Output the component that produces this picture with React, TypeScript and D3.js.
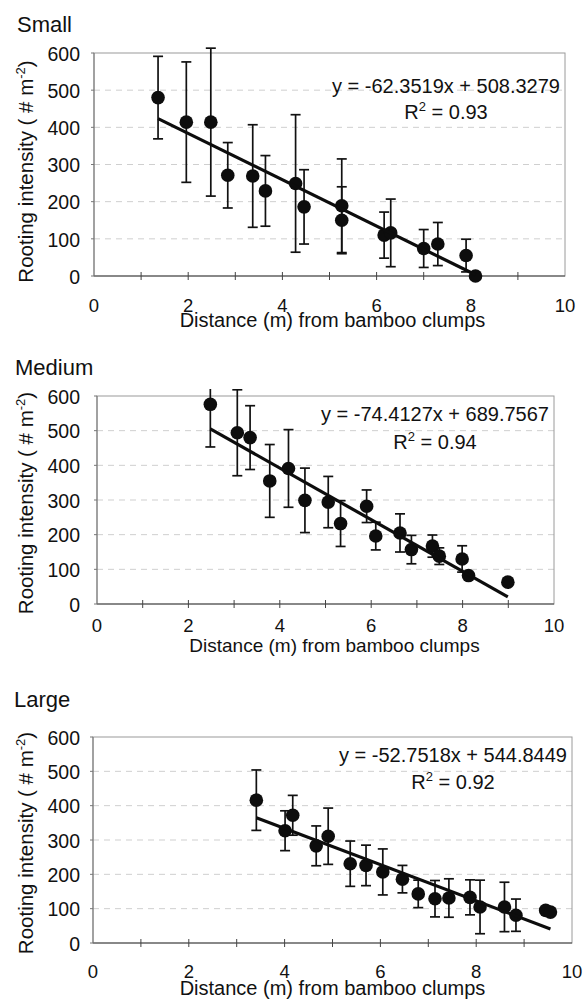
import React from 'react';
import * as d3 from 'd3';

// values: distance (m), mean rooting intensity, error bar half-width
const SMALL_X = [1.36, 1.96, 2.48, 2.84, 3.37, 3.64, 4.28, 4.46, 5.26, 5.26, 6.16, 6.30, 7.00, 7.30, 7.90, 8.10];
const SMALL_Y = [480, 414, 414, 271, 269, 229, 249, 186, 189, 150, 110, 116, 74, 86, 55, 0];
const SMALL_ERR = [111, 162, 199, 88, 138, 95, 185, 100, 126, 90, 62, 91, 51, 58, 44, 0];

const MEDIUM_X = [2.48, 3.07, 3.35, 3.78, 4.19, 4.55, 5.06, 5.33, 5.90, 6.10, 6.63, 6.88, 7.34, 7.49, 7.99, 8.13, 8.99];
const MEDIUM_Y = [576, 494, 480, 355, 391, 299, 294, 232, 282, 196, 205, 157, 167, 138, 130, 82, 63];
const MEDIUM_ERR = [123, 124, 92, 105, 112, 93, 74, 66, 47, 40, 55, 41, 32, 24, 38, 0, 0];

const LARGE_X = [3.41, 4.01, 4.17, 4.66, 4.91, 5.37, 5.70, 6.05, 6.46, 6.79, 7.14, 7.43, 7.87, 8.08, 8.59, 8.83, 9.45, 9.55];
const LARGE_Y = [416, 327, 372, 283, 311, 231, 226, 207, 186, 143, 129, 131, 133, 105, 105, 81, 95, 90];
const LARGE_ERR = [88, 58, 58, 58, 82, 66, 59, 67, 40, 40, 53, 56, 51, 78, 72, 47, 0, 0];

const TITLES = ['Small', 'Medium', 'Large'];
const SLOPES = [-62.3519, -74.4127, -52.7518];
const INTERCEPTS = [508.3279, 689.7567, 544.8449];
const R2 = ['0.93', '0.94', '0.92'];

const X_TICKS = [0, 2, 4, 6, 8, 10];
const Y_TICKS = [0, 100, 200, 300, 400, 500, 600];

const FONT = '"Liberation Sans", Arial, sans-serif';

// layout per panel (pixels)
const layouts = [
  { left: 94, right: 565, top: 53, bottom: 276, titleX: 17, titleY: 32, tickY: 312, axisX: 332.5, axisY: 327, axisFs: 20, eqY: 93, r2Y: 119, yTitleOff: 7 },
  { left: 97, right: 554, top: 396, bottom: 604, titleX: 15, titleY: 375, tickY: 632, axisX: 334.5, axisY: 652, axisFs: 19, eqY: 421, r2Y: 449, yTitleOff: 3 },
  { left: 93, right: 572, top: 737, bottom: 943, titleX: 14, titleY: 707, tickY: 978, axisX: 332.5, axisY: 995, axisFs: 20, eqY: 762, r2Y: 789, yTitleOff: 3 },
];

const series = [
  { xs: SMALL_X, ys: SMALL_Y, errs: SMALL_ERR },
  { xs: MEDIUM_X, ys: MEDIUM_Y, errs: MEDIUM_ERR },
  { xs: LARGE_X, ys: LARGE_Y, errs: LARGE_ERR },
];

const EQ_W = 232;

function Panel({ i }: { i: number }) {
  const L = layouts[i];
  const s = series[i];
  const x = d3.scaleLinear().domain([0, 10]).range([L.left, L.right]);
  const y = d3.scaleLinear().domain([0, 600]).range([L.bottom, L.top]);
  const minX = d3.min(s.xs) as number;
  const maxX = d3.max(s.xs) as number;
  const fit = (v: number) => SLOPES[i] * v + INTERCEPTS[i];
  const line = d3.line<number>().x(d => x(d)).y(d => y(fit(d)));
  const clipId = 'clip' + i;
  const eqCx = L.right - 3 - EQ_W / 2;

  return (
    <g>
      <defs>
        <clipPath id={clipId}>
          <rect x={L.left - 20} y={L.top - 7} width={L.right - L.left + 40} height={L.bottom - L.top + 30} />
        </clipPath>
      </defs>
      <text x={L.titleX} y={L.titleY} fontSize={22}>{TITLES[i]}</text>

      {/* gridlines */}
      {Y_TICKS.slice(1, -1).map(t => (
        <line key={'g' + t} x1={L.left} x2={L.right} y1={y(t)} y2={y(t)}
          stroke="#cfcfcf" strokeWidth={1} strokeDasharray="6 5" />
      ))}
      {/* frame */}
      <rect x={L.left} y={L.top} width={L.right - L.left} height={L.bottom - L.top}
        fill="none" stroke="#9a9a9a" strokeWidth={1} />
      <line x1={L.left} x2={L.right} y1={L.bottom} y2={L.bottom} stroke="#444" strokeWidth={1.2} />
      <line x1={L.left} x2={L.left} y1={L.top} y2={L.bottom} stroke="#777" strokeWidth={1} />

      {/* x minor ticks */}
      {d3.range(1, 10).map(t => (
        <line key={'xt' + t} x1={x(t)} x2={x(t)} y1={L.bottom - 4} y2={L.bottom + 4} stroke="#444" strokeWidth={1} />
      ))}
      {Y_TICKS.map(t => (
        <line key={'yt' + t} x1={L.left - 3} x2={L.left} y1={y(t)} y2={y(t)} stroke="#777" strokeWidth={1} />
      ))}

      {/* tick labels */}
      {Y_TICKS.map(t => (
        <text key={'yl' + t} x={80} y={y(t)} dy="0.4em" textAnchor="end" fontSize={19.5}>{t}</text>
      ))}
      {X_TICKS.map(t => (
        <text key={'xl' + t} x={x(t)} y={L.tickY} textAnchor="middle" fontSize={18.5}>{t}</text>
      ))}
      <text x={L.axisX} y={L.axisY} textAnchor="middle" fontSize={L.axisFs}>
        Distance (m) from bamboo clumps
      </text>
      <text transform={`translate(33,${(L.top + L.bottom) / 2 + L.yTitleOff}) rotate(-90)`} textAnchor="middle" fontSize={20.5}>
        Rooting intensity ( # m<tspan dy="-8" fontSize={13}>-2</tspan><tspan dy="8">)</tspan>
      </text>

      {/* error bars */}
      <g clipPath={`url(#${clipId})`} stroke="#111" strokeWidth={1.7}>
        {s.xs.map((xv, k) => s.errs[k] > 0 ? (
          <g key={'e' + k}>
            <line x1={x(xv)} x2={x(xv)} y1={y(s.ys[k] + s.errs[k])} y2={y(s.ys[k] - s.errs[k])} />
            <line x1={x(xv) - 5} x2={x(xv) + 5} y1={y(s.ys[k] + s.errs[k])} y2={y(s.ys[k] + s.errs[k])} />
            <line x1={x(xv) - 5} x2={x(xv) + 5} y1={y(s.ys[k] - s.errs[k])} y2={y(s.ys[k] - s.errs[k])} />
          </g>
        ) : null)}
      </g>

      {/* points */}
      {s.xs.map((xv, k) => (
        <circle key={'p' + k} cx={x(xv)} cy={y(s.ys[k])} r={6.8} fill="#0d0d0d" />
      ))}

      {/* regression line */}
      <path d={line([minX, maxX]) as string} stroke="#0d0d0d" strokeWidth={3.2} fill="none" />

      <text x={eqCx} y={L.eqY} textAnchor="middle" fontSize={20}>
        {`y = ${SLOPES[i]}x + ${INTERCEPTS[i]}`}
      </text>
      <text x={eqCx} y={L.r2Y} textAnchor="middle" fontSize={20}>
        R<tspan dy="-8" fontSize={13}>2</tspan><tspan dy="8"> = {R2[i]}</tspan>
      </text>
    </g>
  );
}

export default function App() {
  return (
    <svg width={584} height={1000} style={{ position: 'absolute', left: 0, top: 0, background: '#fff' }}
      fontFamily={FONT} fill="#111">
      <rect width={584} height={1000} fill="#fff" />
      {[0, 1, 2].map(i => <Panel key={i} i={i} />)}
    </svg>
  );
}
